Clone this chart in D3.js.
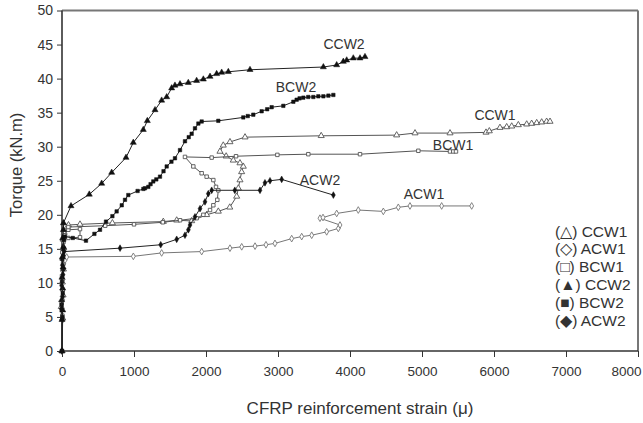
<!DOCTYPE html>
<html>
<head>
<meta charset="utf-8">
<script src="https://cdnjs.cloudflare.com/ajax/libs/d3/7.8.5/d3.min.js"></script>
<style>
  body { margin: 0; background: #fff; }
  svg text { font-family: Arial, "Liberation Sans", sans-serif; fill: #333; }
  .axis text { font-size: 14px; }
  .axis line { stroke: #333; }
</style>
</head>
<body>
<div id="chart"></div>
<script>
// strain (micro-strain) vs torque (kN.m)
var ccw1 = [[0,0],[10,4.8],[-10,6.5],[15,8.2],[5,10.1],[20,12],[10,13.6],[25,15.1],[15,16.4],[30,17.4],[45,18.3],[90,18.5],[250,18.6],[700,18.8],[1407,19.0],[1593,19.2],[1801,19.1],[2009,20.0],[2171,20.5],[2330,21.1],[2426,22.7],[2449,23.9],[2472,25.1],[2495,26.3],[2518,27.1],[2472,27.6],[2379,28.0],[2280,28.6],[2194,29.3],[2240,30.2],[2333,30.7],[2542,31.4],[3600,31.6],[4648,31.7],[4903,32.0],[5389,32.0],[5889,32.1],[5935,32.3],[6083,32.8],[6176,32.9],[6246,33.0],[6338,33.2],[6454,33.3],[6523,33.4],[6593,33.5],[6662,33.6],[6731,33.7],[6778,33.7]];
var acw1 = [[0,0],[5,4.5],[-5,6],[10,7.5],[0,9],[15,10.5],[5,11.8],[25,12.8],[40,13.3],[65,13.8],[991,13.9],[1384,14.4],[1940,14.6],[2333,15.1],[2496,15.3],[2681,15.4],[2833,15.6],[2958,15.8],[3190,16.5],[3329,16.8],[3468,17.0],[3676,17.5],[3838,18.0],[3861,18.5],[3583,19.5],[3625,19.6],[3815,20.2],[4115,20.7],[4463,20.5],[4671,21.1],[4833,21.3],[5273,21.3],[5690,21.3]];
var bcw1 = [[0,0],[5,5.2],[-5,7],[10,9],[0,11],[15,12.8],[5,14.5],[20,16],[30,17.3],[88,17.8],[250,17.9],[250,16.7],[88,16.6],[30,17],[88,18.2],[600,18.4],[1000,18.6],[1400,18.9],[1640,19.2],[1870,19.5],[1963,20.0],[2056,20.7],[2102,21.4],[2157,22.2],[2171,23.6],[2139,24.1],[2102,25.1],[2009,25.6],[1940,26.1],[1824,27.1],[1708,28.5],[2079,28.4],[2417,28.6],[2991,28.8],[3421,28.9],[4139,28.9],[4949,29.4],[5389,29.3],[5435,29.3],[5472,29.3]];
var ccw2 = [[0,0],[0,4.6],[10,6],[-5,7.5],[10,9.2],[0,10.8],[15,12.3],[5,13.8],[20,15.3],[10,16.6],[20,17.8],[20,18.8],[125,21.3],[379,23.0],[551,24.6],[690,26.2],[889,28.4],[990,30.6],[1129,32.5],[1185,33.8],[1292,35.4],[1384,36.8],[1454,37.3],[1523,38.6],[1569,39.0],[1639,39.2],[1754,39.4],[1870,39.7],[1963,39.9],[2056,40.3],[2148,40.7],[2218,40.9],[2310,41.0],[2611,41.3],[3630,41.7],[3815,42.0],[3907,42.5],[3954,42.7],[4046,43.0],[4139,43.0],[4208,43.2]];
var bcw2 = [[0,0],[5,5],[-5,6.8],[10,8.5],[0,10.2],[15,12],[5,13.5],[20,15],[25,16.3],[40,16.8],[150,16.6],[333,16.2],[450,17.2],[528,17.8],[611,19.0],[700,19.8],[759,20.5],[830,21.4],[875,22.2],[921,22.9],[1050,23.5],[1130,23.8],[1153,23.9],[1199,24.1],[1230,24.5],[1268,24.9],[1310,25.2],[1361,25.6],[1410,26.4],[1454,27.1],[1520,27.8],[1569,28.3],[1639,29.5],[1708,30.8],[1760,31.4],[1801,31.9],[1847,32.7],[1894,33.4],[1940,33.7],[2171,33.8],[2518,34.3],[2580,34.5],[2657,34.7],[2773,35.2],[2850,35.5],[2912,35.8],[3074,36.0],[3213,36.6],[3259,36.9],[3300,37.1],[3352,37.2],[3420,37.3],[3491,37.3],[3560,37.4],[3630,37.4],[3700,37.5],[3769,37.6]];
var acw2 = [[0,0],[5,4.7],[-10,6.2],[10,8],[-5,9.6],[15,11.2],[5,12.6],[20,14],[30,14.6],[806,15.1],[1371,15.6],[1593,16.4],[1708,17.0],[1755,17.8],[1778,18.5],[1847,19.7],[1917,20.9],[1986,21.9],[2032,23.1],[2079,23.6],[2400,23.6],[2750,23.6],[2819,24.7],[2889,25.0],[3051,25.2],[3769,22.9]];

var seriesNames = ["CCW1", "ACW1", "BCW1", "CCW2", "BCW2", "ACW2"];
var seriesData = [ccw1, acw1, bcw1, ccw2, bcw2, acw2];
var legendSymbols = ["\u25B3", "\u25C7", "\u25A1", "\u25B2", "\u25A0", "\u25C6"];
// curve labels, placed in data units
var labelPos = [[6014, 34.7], [5028, 23.1], [5431, 30.3], [3917, 45.1], [3250, 38.8], [3583, 25.1]];

var xTicks = d3.range(0, 8001, 1000);
var yTicks = d3.range(0, 51, 5);

var svg_width = 643, svg_height = 423;
var svg = d3.select("#chart").append("svg")
    .attr("width", svg_width)
    .attr("height", svg_height);

var margin = {top: 10.5, right: 5, bottom: 72, left: 62},
    width = svg_width - margin.left - margin.right,
    height = svg_height - margin.top - margin.bottom,
    g = svg.append("g").attr("transform", "translate(" + margin.left + "," + margin.top + ")");

var x = d3.scaleLinear().domain([0, 8000]).range([0, width]);
var y = d3.scaleLinear().domain([0, 50]).range([height, 0]);

var symbolTypes = [d3.symbolTriangle, d3.symbolDiamond, d3.symbolSquare,
                   d3.symbolTriangle, d3.symbolSquare, d3.symbolDiamond];
var symbolSizes = [16, 13, 12, 16, 12, 13];
var filled = [false, false, false, true, true, true];
var lineColors = ["#555", "#777", "#555", "#222", "#222", "#222"];

// frame: top and right in gray
g.append("line").attr("x1", 0).attr("x2", width).attr("y1", 0).attr("y2", 0)
    .attr("stroke", "#777").attr("stroke-width", 2);
g.append("line").attr("x1", width).attr("x2", width).attr("y1", 0).attr("y2", height)
    .attr("stroke", "#777").attr("stroke-width", 2);

g.append("g")
    .attr("class", "axis")
    .attr("transform", "translate(0," + height + ")")
    .call(d3.axisBottom(x).tickValues(xTicks).tickSize(6).tickPadding(9).tickFormat(d3.format("d")))
    .call(function(s) {
        s.select(".domain").remove();
        s.selectAll("text").style("font-size", "13.5px");
        // last label pulled in so it stays inside the page
        s.selectAll(".tick").filter(function(d) { return d === 8000; })
            .select("text").attr("text-anchor", "end").attr("x", 3);
    });

g.append("g")
    .attr("class", "axis")
    .call(d3.axisLeft(y).tickValues(yTicks).tickSize(5).tickPadding(4))
    .call(function(s) { s.select(".domain").remove(); });

g.append("line").attr("x1", 0).attr("x2", width).attr("y1", height).attr("y2", height)
    .attr("stroke", "#333").attr("stroke-width", 1.6);
g.append("line").attr("x1", 0).attr("x2", 0).attr("y1", 0).attr("y2", height)
    .attr("stroke", "#333").attr("stroke-width", 1.6);

var line = d3.line()
    .x(function(d) { return x(d[0]); })
    .y(function(d) { return y(d[1]); });

seriesData.forEach(function(data, i) {
    var s = g.append("g").attr("class", "series");
    s.append("path")
        .datum(data)
        .attr("fill", "none")
        .attr("stroke", lineColors[i])
        .attr("stroke-width", 1)
        .attr("d", line);
    s.selectAll("path.pt")
        .data(data)
        .enter().append("path")
        .attr("class", "pt")
        .attr("transform", function(d) { return "translate(" + x(d[0]) + "," + y(d[1]) + ")"; })
        .attr("d", d3.symbol().type(symbolTypes[i]).size(symbolSizes[i]))
        .attr("fill", filled[i] ? "#111" : "#fff")
        .attr("stroke", filled[i] ? "#111" : lineColors[i])
        .attr("stroke-width", filled[i] ? 0.5 : 0.9);
});

g.selectAll(".curve-label")
    .data(seriesNames)
    .enter().append("text")
    .attr("class", "curve-label")
    .attr("x", function(d, i) { return x(labelPos[i][0]); })
    .attr("y", function(d, i) { return y(labelPos[i][1]); })
    .attr("dy", "0.35em")
    .attr("text-anchor", "middle")
    .style("font-size", "14px")
    .text(function(d) { return d; });

var legend = g.selectAll(".legend")
    .data(seriesNames)
    .enter().append("text")
    .attr("class", "legend")
    .attr("x", 493)
    .attr("y", function(d, i) { return 226 + i * 17.8; })
    .style("font-size", "15.5px")
    .text(function(d, i) { return "(" + legendSymbols[i] + ") " + d; });

svg.append("text")
    .attr("transform", "translate(22,165) rotate(-90)")
    .attr("text-anchor", "middle")
    .style("font-size", "16.5px")
    .text("Torque (kN.m)");

svg.append("text")
    .attr("x", 360)
    .attr("y", 414)
    .attr("text-anchor", "middle")
    .style("font-size", "17px")
    .text("CFRP reinforcement strain (\u03BC)");
</script>
</body>
</html>
